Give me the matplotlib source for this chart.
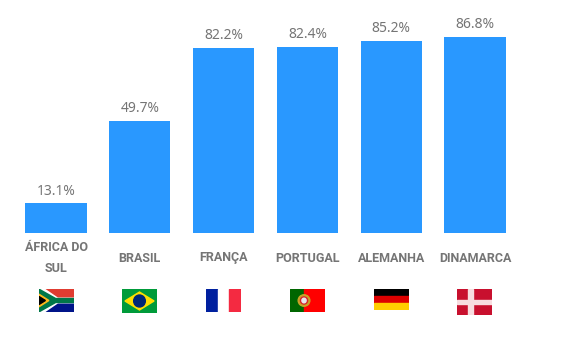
import matplotlib
matplotlib.use('Agg')
import matplotlib.pyplot as plt
from matplotlib.patches import Rectangle, Polygon, Ellipse

plt.rcParams['font.family'] = ['Noto Sans', 'DejaVu Sans']

paises = ['ÁFRICA DO\nSUL', 'BRASIL', 'FRANÇA', 'PORTUGAL', 'ALEMANHA', 'DINAMARCA']
valores = [13.1, 49.7, 82.2, 82.4, 85.2, 86.8]
rotulos = ['13.1%', '49.7%', '82.2%', '82.4%', '85.2%', '86.8%']

W, H = 575, 357
fig = plt.figure(figsize=(W / 100, H / 100), dpi=100)

# posicao em pixels da imagem
def px_axes(x0, y0, x1, y1):
    return fig.add_axes([x0 / W, 1 - y1 / H, (x1 - x0) / W, (y1 - y0) / H])

ax = px_axes(14.1, 7.5, 517, 233)
pos = list(range(len(valores)))
ax.bar(pos, valores, width=0.73, color='#2998FF')
ax.set_xlim(-0.5, 5.5)
ax.set_ylim(0, 100)
ax.set_yticks([])
ax.set_xticks(pos)
ax.set_xticklabels(paises, family='Roboto', fontsize=9, fontweight='bold', color='#757575', linespacing=1.75, va='center')
ax.tick_params(axis='x', length=0, pad=18)
for s in ax.spines.values():
    s.set_visible(False)
for p, v, r in zip(pos, valores, rotulos):
    ax.annotate(r, (p, v), xytext=(0, 3.5), textcoords='offset points', ha='center', va='bottom',
                fontsize=10, color='#757575')

# bandeiras
def flag_axes(x0, y0, x1, y1):
    a = px_axes(x0, y0, x1, y1)
    a.set_xlim(0, 3)
    a.set_ylim(0, 2)
    a.axis('off')
    return a

# Africa do Sul
a = flag_axes(39, 289, 74, 312)
a.add_patch(Rectangle((0, 1), 3, 1, color='#E03C31'))
a.add_patch(Rectangle((0, 0), 3, 1, color='#001489'))
a.add_patch(Polygon([(0, 2), (0.45, 2), (1.6, 1.2), (3, 1.2), (3, 0.8), (1.6, 0.8), (0.45, 0), (0, 0)], color='white'))
a.add_patch(Polygon([(0, 1.85), (1.4, 1.05), (3, 1.05), (3, 0.95), (1.4, 0.95), (0, 0.15)], color='#007749', lw=3))
a.add_patch(Polygon([(0, 1.55), (0.85, 1), (0, 0.45)], color='#FFB81C'))
a.add_patch(Polygon([(0, 1.35), (0.55, 1), (0, 0.65)], color='black'))

# Brasil
a = flag_axes(122, 289, 157, 313)
a.add_patch(Rectangle((0, 0), 3, 2, color='#009B3A'))
a.add_patch(Polygon([(0.25, 1), (1.5, 1.75), (2.75, 1), (1.5, 0.25)], color='#FEDF00'))
a.add_patch(Ellipse((1.5, 1), 1.0, 1.0, color='#002776'))

# Franca
a = flag_axes(206, 289, 241, 312)
a.add_patch(Rectangle((0, 0), 1, 2, color='#00209F'))
a.add_patch(Rectangle((1, 0), 1, 2, color='white'))
a.add_patch(Rectangle((2, 0), 1, 2, color='#F42A41'))

# Portugal
a = flag_axes(290, 289, 325, 312)
a.add_patch(Rectangle((0, 0), 1.2, 2, color='#006600'))
a.add_patch(Rectangle((1.2, 0), 1.8, 2, color='#FF0000'))
a.add_patch(Ellipse((1.2, 1), 1.0, 1.0, color='#C9A227'))
a.add_patch(Ellipse((1.2, 1), 0.62, 0.62, color='#D8232A'))
a.add_patch(Ellipse((1.2, 1), 0.36, 0.4, color='#E8E8F0'))

# Alemanha
a = flag_axes(374, 289, 409, 310)
a.add_patch(Rectangle((0, 4 / 3), 3, 2 / 3, color='black'))
a.add_patch(Rectangle((0, 2 / 3), 3, 2 / 3, color='#DD0000'))
a.add_patch(Rectangle((0, 0), 3, 2 / 3, color='#FFCE00'))

# Dinamarca
a = flag_axes(457, 289, 492, 315)
a.add_patch(Rectangle((0, 0), 3, 2, color='#C8102E'))
a.add_patch(Rectangle((0.95, 0), 0.38, 2, color='#F7DDE0'))
a.add_patch(Rectangle((0, 0.83), 3, 0.32, color='#F7DDE0'))

fig.savefig('out.png', dpi=100)
